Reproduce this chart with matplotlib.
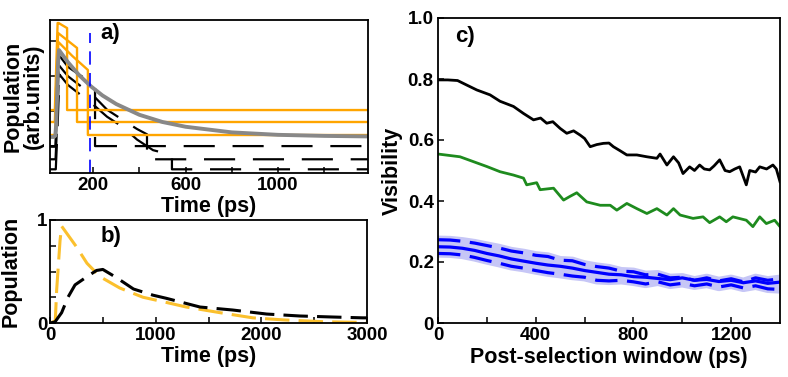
import matplotlib
matplotlib.use("Agg")
import matplotlib.pyplot as plt

plt.rcParams['font.family'] = ['Liberation Sans', 'DejaVu Sans']
plt.rcParams['font.weight'] = 'bold'
plt.rcParams['axes.labelweight'] = 'bold'

# ---------------- panel a data ----------------
gray_t = [13, 30, 36, 40, 44, 48, 52, 90, 140, 190, 240, 300, 400, 500, 600, 800, 1000, 1200, 1390]
gray_v = [0.255, 0.255, 0.262, 0.33, 0.50, 0.68, 0.749, 0.681, 0.605, 0.543, 0.491, 0.442, 0.381,
          0.340, 0.313, 0.281, 0.267, 0.261, 0.258]

orA_t = [13, 34, 46, 50, 87, 87, 1390]
orA_v = [0.408, 0.408, 0.903, 0.903, 0.874, 0.408, 0.408]
orB_t = [13, 34, 48, 130, 130, 1390]
orB_v = [0.340, 0.340, 0.846, 0.761, 0.340, 0.340]
orC_t = [13, 35, 49, 110, 177, 177, 1390]
orC_v = [0.266, 0.266, 0.795, 0.715, 0.636, 0.266, 0.266]

k1_t = [13, 36, 42, 52, 91, 150, 208, 208, 1390]
k1_v = [0.203, 0.203, 0.35, 0.72, 0.653, 0.60, 0.55, 0.203, 0.203]
k2_t = [13, 37, 43, 53, 91, 150, 208, 260, 330, 390, 433, 433, 1390]
k2_v = [0.128, 0.128, 0.30, 0.66, 0.600, 0.54, 0.48, 0.41, 0.35, 0.30, 0.27, 0.128, 0.128]
k3_t = [13, 38, 44, 54, 91, 150, 208, 260, 330, 390, 459, 541, 541, 1390]
k3_v = [0.071, 0.071, 0.25, 0.61, 0.550, 0.49, 0.43, 0.37, 0.31, 0.24, 0.18, 0.152, 0.071, 0.071]

blue_cut = 186

# ---------------- panel b data ----------------
bk_t = [0, 47, 110, 170, 237, 350, 440, 500, 630, 790, 975, 1100, 1420, 1730, 2050, 2365, 2680, 2960, 3000]
bk_v = [0.0, 0.01, 0.10, 0.25, 0.37, 0.45, 0.51, 0.52, 0.44, 0.33, 0.27, 0.24, 0.155, 0.126, 0.087,
        0.068, 0.058, 0.05, 0.05]
bo_t = [0, 50, 63, 95, 110, 250, 350, 473, 660, 880, 1100, 1290, 1610, 1920, 2210, 2600, 3000]
bo_v = [0.0, 0.02, 0.32, 0.80, 0.94, 0.74, 0.58, 0.45, 0.34, 0.25, 0.20, 0.155, 0.10, 0.05, 0.03,
        0.012, 0.005]

# ---------------- panel c data ----------------
ck_t = [0, 40, 80, 118, 159, 213, 254, 309, 350, 391, 420, 445, 470, 500, 527, 555, 582, 600, 623,
        650, 677, 700, 718, 745, 773, 814, 855, 896, 909, 937, 964, 985, 1003, 1030, 1050, 1071,
        1090, 1112, 1130, 1153, 1175, 1194, 1215, 1235, 1262, 1276, 1300, 1317, 1345, 1371, 1385, 1400]
ck_v = [0.797, 0.797, 0.795, 0.78, 0.764, 0.748, 0.727, 0.71, 0.687, 0.666, 0.672, 0.655, 0.660,
        0.638, 0.622, 0.630, 0.616, 0.605, 0.578, 0.585, 0.589, 0.590, 0.578, 0.565, 0.551, 0.551,
        0.545, 0.54, 0.554, 0.518, 0.545, 0.525, 0.49, 0.512, 0.500, 0.518, 0.505, 0.502, 0.515,
        0.535, 0.500, 0.496, 0.505, 0.512, 0.453, 0.50, 0.495, 0.512, 0.505, 0.518, 0.505, 0.463]

cg_t = [0, 40, 90, 145, 200, 254, 309, 350, 363, 404, 418, 473, 514, 540, 568, 609, 664, 705,
        732, 773, 814, 855, 896, 937, 964, 991, 1044, 1085, 1112, 1153, 1180, 1207, 1262, 1289,
        1317, 1344, 1378, 1400]
cg_v = [0.554, 0.550, 0.545, 0.529, 0.513, 0.496, 0.485, 0.475, 0.453, 0.46, 0.437, 0.442, 0.403,
        0.415, 0.427, 0.397, 0.386, 0.386, 0.37, 0.392, 0.375, 0.359, 0.375, 0.354, 0.375, 0.354,
        0.343, 0.348, 0.329, 0.348, 0.332, 0.348, 0.337, 0.316, 0.348, 0.326, 0.337, 0.316]

cb_t = [0, 50, 100, 150, 200, 250, 300, 350, 400, 450, 500, 550, 600, 650, 700, 750, 800, 850,
        900, 950, 1000, 1050, 1100, 1150, 1200, 1250, 1300, 1350, 1400]
cb_mid = [0.250, 0.249, 0.245, 0.238, 0.228, 0.220, 0.210, 0.203, 0.196, 0.190, 0.186, 0.180,
          0.172, 0.166, 0.160, 0.158, 0.152, 0.150, 0.146, 0.142, 0.148, 0.140, 0.143, 0.136,
          0.140, 0.132, 0.138, 0.130, 0.134]
cb_hi = [0.273, 0.272, 0.268, 0.262, 0.254, 0.246, 0.236, 0.230, 0.222, 0.218, 0.206, 0.204,
         0.192, 0.185, 0.180, 0.170, 0.168, 0.158, 0.160, 0.148, 0.150, 0.140, 0.148, 0.138,
         0.145, 0.135, 0.148, 0.140, 0.145]
cb_lo = [0.228, 0.227, 0.223, 0.215, 0.205, 0.196, 0.186, 0.180, 0.172, 0.165, 0.160, 0.154,
         0.150, 0.140, 0.138, 0.140, 0.135, 0.128, 0.135, 0.125, 0.130, 0.122, 0.128, 0.118,
         0.125, 0.115, 0.122, 0.112, 0.110]

ORANGE = '#FFA500'
GOLD = '#FBC02D'
GREEN = '#1E8B1E'
BAND = '#C6C6F6'

fig = plt.figure(figsize=(7.88, 3.77), dpi=100)
W, H = 788, 377


def add_ax(l, r, t, b):
    return fig.add_axes([l / W, 1 - b / H, (r - l) / W, (b - t) / H])


def style(ax):
    for s in ax.spines.values():
        s.set_linewidth(1.3)
    ax.tick_params(direction='in', length=4, width=1.1, labelsize=13.5, pad=3,
                   top=False, right=False)
    for lab in ax.get_xticklabels() + ax.get_yticklabels():
        lab.set_fontweight('bold')


# ---------------- panel a ----------------
axa = add_ax(50, 368, 20, 173)
for t, v in [(k1_t, k1_v), (k2_t, k2_v), (k3_t, k3_v)]:
    axa.plot(t, v, color='black', lw=1.6, linestyle=(0, (14, 8)))
for t, v in [(orA_t, orA_v), (orB_t, orB_v), (orC_t, orC_v)]:
    axa.plot(t, v, color=ORANGE, lw=1.7)
axa.plot(gray_t, gray_v, color='#888888', lw=2.8)
axa.axvline(blue_cut, ymin=0, ymax=0.915, color='blue', lw=1.2, linestyle=(0, (8, 5)))
axa.set_xlim(13, 1390)
axa.set_ylim(0.05, 0.92)
axa.set_xticks([200, 400, 600, 800, 1000, 1200])
axa.set_xticklabels(['200', '', '600', '', '1000', ''])
axa.set_yticks([0.2, 0.4, 0.6, 0.8])
axa.set_yticklabels([])
style(axa)
axa.set_xlabel('Time (ps)', fontsize=15.5, fontweight='bold', labelpad=1)
axa.set_ylabel('Population\n(arb.units)', fontsize=15.5, fontweight='bold', linespacing=0.95)
axa.yaxis.set_label_coords(-0.018, 0.5)
axa.text(0.157, 0.915, 'a)', transform=axa.transAxes, fontsize=16, fontweight='bold',
         va='center', ha='left')

# ---------------- panel b ----------------
axb = add_ax(50, 367, 220, 323)
axb.plot(bo_t, bo_v, color=GOLD, lw=2.2, linestyle=(0, (8, 3)))
axb.plot(bk_t, bk_v, color='black', lw=2.2, linestyle=(0, (8, 3)))
axb.set_xlim(0, 3000)
axb.set_ylim(0, 1)
axb.set_xticks([0, 500, 1000, 1500, 2000, 2500, 3000])
axb.set_xticklabels(['0', '', '1000', '', '2000', '', '3000'])
axb.set_yticks([0, 0.25, 0.5, 0.75, 1])
axb.set_yticklabels(['0', '', '', '', '1'])
style(axb)
axb.tick_params(axis='y', pad=2)
axb.set_xlabel('Time (ps)', fontsize=15.5, fontweight='bold', labelpad=1)
axb.set_ylabel('Population', fontsize=15.5, fontweight='bold')
axb.yaxis.set_label_coords(-0.088, 0.5)
axb.text(0.158, 0.835, 'b)', transform=axb.transAxes, fontsize=16, fontweight='bold',
         va='center', ha='left')

# ---------------- panel c ----------------
axc = add_ax(438, 780, 18, 323)
axc.fill_between(cb_t, cb_lo, cb_hi, color=BAND, lw=0)
axc.plot(cb_t, cb_hi, color=BAND, lw=6, solid_capstyle='butt')
axc.plot(cb_t, cb_lo, color=BAND, lw=6, solid_capstyle='butt')
axc.plot(cb_t, cb_hi, color='blue', lw=2.3, linestyle=(0, (7, 3)))
axc.plot(cb_t, cb_lo, color='blue', lw=2.3, linestyle=(0, (7, 3)))
axc.plot(cb_t, cb_mid, color='blue', lw=2.3)
axc.plot(cg_t, cg_v, color=GREEN, lw=2.0)
axc.plot(ck_t, ck_v, color='black', lw=2.0)
axc.set_xlim(0, 1400)
axc.set_ylim(0, 1)
axc.set_xticks([0, 200, 400, 600, 800, 1000, 1200])
axc.set_xticklabels(['0', '', '400', '', '800', '', '1200'])
axc.set_yticks([0, 0.2, 0.4, 0.6, 0.8, 1.0])
axc.set_yticklabels(['0', '0.2', '0.4', '0.6', '0.8', '1.0'])
style(axc)
axc.set_xlabel('Post-selection window (ps)', fontsize=15.5, fontweight='bold', labelpad=2)
axc.set_ylabel('Visibility', fontsize=15.5, fontweight='bold')
axc.yaxis.set_label_coords(-0.102, 0.5)
axc.text(0.05, 0.94, 'c)', transform=axc.transAxes, fontsize=16, fontweight='bold',
         va='center', ha='left')

fig.savefig('out.png', dpi=100)
